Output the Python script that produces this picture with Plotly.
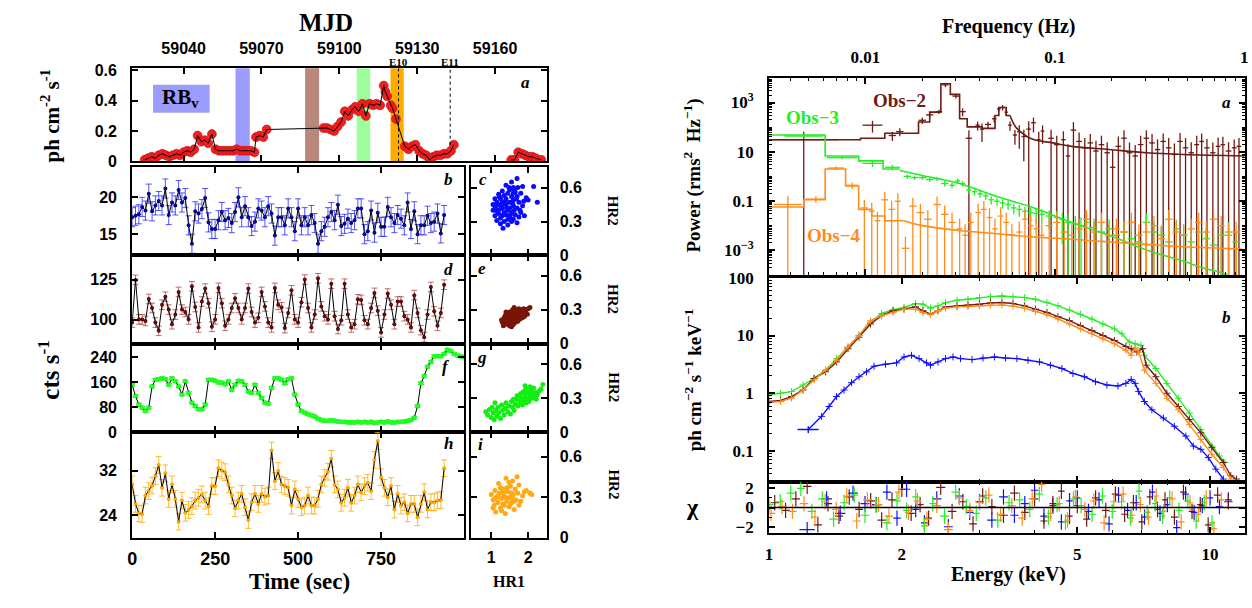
import numpy as np
import plotly.graph_objects as go

W, H = 1252, 608
def px(x): return x / W
def py(y): return 1 - y / H

SANS = "Liberation Sans"
SERIF = "Liberation Serif"

# ---------------- data: panel a (MJD light curve) ----------------
lc_mjd = [59025.0, 59026.3, 59027.7, 59029.1, 59030.4, 59031.8, 59033.2, 59034.5, 59035.9, 59037.3,
          59038.6, 59040.0, 59041.4, 59042.7, 59044.1, 59045.4, 59046.8, 59048.2, 59049.5, 59050.9,
          59052.3, 59053.6, 59055.0, 59056.4, 59057.7, 59059.1, 59060.4, 59061.8, 59063.2, 59064.5,
          59065.9, 59067.3, 59067.9, 59069.3, 59070.7, 59072.0, 59093.9, 59095.2, 59096.6, 59098.0,
          59099.3, 59100.7, 59102.1, 59103.4, 59104.8, 59106.1, 59107.5, 59108.9, 59110.2, 59111.6,
          59113.0, 59114.3, 59115.7, 59117.1, 59117.7, 59118.4, 59119.8, 59120.5, 59121.8, 59125.2,
          59126.6, 59128.0, 59129.3, 59130.7, 59132.1, 59133.4, 59134.8, 59136.2, 59137.5, 59138.9,
          59140.3, 59141.6, 59143.0, 59144.1, None,
          59166.2, 59167.5, 59168.9, 59170.3, 59171.6, 59173.0, 59174.4, 59175.7, 59177.8]
lc_flux = [0.01, 0.02, 0.03, 0.02, 0.04, 0.05, 0.04, 0.03, 0.04, 0.05,
           0.04, 0.06, 0.07, 0.06, 0.08, 0.17, 0.13, 0.14, 0.12, 0.18,
           0.08, 0.07, 0.07, 0.07, 0.07, 0.07, 0.08, 0.07, 0.07, 0.07,
           0.07, 0.06, 0.16, 0.17, 0.16, 0.21, 0.22, 0.22, 0.21, 0.20,
           0.23, 0.26, 0.33, 0.30, 0.34, 0.36, 0.33, 0.38, 0.30, 0.38,
           0.37, 0.38, 0.37, 0.50, 0.46, 0.43, 0.37, 0.35, 0.28, 0.10,
           0.08, 0.10, 0.11, 0.07, 0.05, 0.04, 0.01, 0.03, 0.04, 0.04,
           0.05, 0.05, 0.07, 0.11, None,
           0.01, 0.01, 0.06, 0.05, 0.04, 0.03, 0.03, 0.02, 0.01]
mjd_ticks = [59040, 59070, 59100, 59130, 59160]
mjd_ticklabels = ['59040', '59070', '59100', '59130', '59160']
band_start = [59060.0, 59086.8, 59106.7, 59119.7]
band_end = [59065.5, 59092.2, 59111.9, 59124.8]
band_color = ['#9c9cff', '#b9887a', '#9cff9c', '#ffab00']
epoch_mjd = [59122.8, 59142.7]
epoch_name = ['E10', 'E11']
epoch_flux = [0.0, 0.11]

# ---------------- data: light curves (cts/s) ----------------
t_short = list(range(0, 950, 10))
t_long = list(range(0, 1010, 10))
b_rate = [17.3, 17.5, 17.7, 18.7, 18.2, 20.5, 18.1, 18.9, 19.5, 18.9,
          21.2, 17.6, 19.3, 18.9, 21.0, 19.3, 19.9, 16.2, 13.7, 18.1,
          17.8, 18.4, 19.9, 16.6, 15.7, 15.7, 16.9, 18.0, 16.9, 17.2,
          16.5, 18.0, 20.0, 17.3, 18.8, 17.3, 16.1, 16.7, 18.5, 18.2,
          17.3, 18.8, 17.8, 14.8, 17.3, 17.3, 16.2, 18.5, 17.3, 15.4,
          18.5, 16.2, 17.3, 16.2, 17.6, 16.5, 13.7, 15.4, 16.0, 17.3,
          18.0, 16.9, 19.0, 16.1, 16.4, 17.1, 16.5, 16.9, 18.5, 18.5,
          15.0, 15.4, 18.2, 15.2, 17.9, 16.0, 16.0, 18.7, 17.3, 16.5,
          17.6, 17.1, 16.2, 19.3, 15.7, 18.1, 15.0, 16.2, 16.2, 17.5,
          16.5, 16.7, 17.8, 15.1, 17.6]
d_rate = [98.2, 124.8, 100.2, 100.2, 99.2, 112.9, 107.3, 98.2, 93.1, 109.3,
          114.3, 106.3, 97.2, 103.2, 117.3, 106.3, 104.8, 100.2, 120.8, 107.9,
          95.2, 111.3, 119.4, 110.3, 95.6, 100.2, 119.8, 110.3, 96.2, 100.2,
          107.3, 113.3, 107.3, 100.2, 107.3, 119.4, 104.8, 98.2, 101.2, 117.3,
          108.3, 98.2, 95.2, 119.8, 109.3, 107.7, 94.8, 104.2, 118.3, 100.2,
          98.2, 110.9, 125.0, 107.3, 95.2, 103.2, 125.8, 108.3, 102.2, 100.2,
          122.4, 102.2, 94.2, 99.6, 122.4, 103.2, 95.2, 97.2, 112.7, 112.3,
          99.6, 97.2, 107.3, 116.7, 105.6, 92.1, 103.2, 116.3, 109.3, 97.2,
          111.3, 111.3, 102.2, 100.2, 95.2, 115.3, 104.2, 93.5, 89.1, 103.2,
          120.4, 105.2, 96.2, 104.2, 121.8]
f_rate = [151, 115, 88, 78, 67, 78, 146, 167, 169, 172,
          169, 151, 172, 162, 146, 120, 162, 125, 94, 83,
          73, 73, 88, 167, 167, 164, 158, 158, 153, 162,
          135, 151, 164, 162, 151, 130, 125, 151, 125, 109,
          94, 91, 141, 172, 172, 167, 156, 169, 172, 120,
          88, 67, 62, 57, 54, 50, 43, 39, 36, 36,
          38, 36, 34, 33, 33, 31, 31, 31, 33, 31,
          33, 31, 33, 29, 31, 33, 31, 34, 31, 31,
          33, 33, 34, 36, 39, 46, 83, 156, 179, 209,
          224, 242, 242, 242, 250, 263, 259, 250, 245, 242,
          240]
h_rate = [29.5, 26.0, 24.3, 24.2, 27.5, 28.3, 29.3, 31.0, 33.0, 28.9,
          31.5, 26.9, 29.5, 26.9, 22.8, 26.6, 24.4, 24.9, 25.6, 26.6,
          27.1, 27.7, 26.6, 25.6, 29.2, 29.2, 32.4, 32.0, 31.7, 29.5,
          27.5, 25.2, 26.6, 27.8, 25.4, 23.1, 26.3, 27.8, 26.0, 27.8,
          27.3, 27.5, 35.6, 30.1, 31.9, 29.5, 29.2, 28.9, 25.7, 28.6,
          26.9, 25.4, 25.7, 27.5, 25.7, 25.7, 26.9, 29.5, 30.7, 31.8,
          34.1, 29.5, 28.6, 26.2, 27.1, 28.9, 26.2, 27.5, 29.5, 28.1,
          29.2, 29.8, 28.3, 33.9, 37.3, 30.8, 28.9, 27.2, 29.2, 25.0,
          27.8, 25.7, 26.3, 24.3, 26.0, 26.0, 23.6, 26.0, 28.1, 25.0,
          26.3, 26.3, 26.6, 26.7, 32.4]
rate_err = [1.3, 3.0, 4.0, 1.5]

# ---------------- data: hardness-ratio diagrams ----------------
c_hr1 = [1.70, 1.55, 1.40, 1.85, 2.15, 1.60, 1.50, 1.30, 1.65, 1.45, 1.80, 1.20, 1.35, 1.55, 1.70,
         1.95, 1.10, 1.25, 1.40, 1.60, 2.00, 2.25, 1.15, 1.30, 1.50, 1.75, 1.05, 1.20, 1.40, 1.60,
         1.85, 1.10, 1.30, 1.50, 1.70, 1.25, 1.45, 1.62, 1.05, 1.15, 1.35, 1.55, 1.80, 1.20, 1.40,
         1.65, 1.10, 1.30, 1.50, 1.75, 1.90, 1.25, 1.45, 1.60, 1.15, 1.35, 1.55, 1.70, 1.25, 1.45,
         1.32, 1.60, 1.48, 1.38, 1.58, 1.68, 1.28, 1.52, 1.42, 1.22, 1.78, 1.88, 1.12, 1.62, 1.72]
c_hr2 = [0.68, 0.65, 0.62, 0.61, 0.61, 0.60, 0.58, 0.57, 0.56, 0.55, 0.55, 0.54, 0.53, 0.52, 0.52,
         0.51, 0.50, 0.50, 0.50, 0.49, 0.49, 0.47, 0.47, 0.47, 0.47, 0.47, 0.45, 0.45, 0.45, 0.44,
         0.44, 0.43, 0.42, 0.42, 0.42, 0.41, 0.40, 0.40, 0.40, 0.39, 0.38, 0.38, 0.38, 0.37, 0.36,
         0.36, 0.35, 0.35, 0.34, 0.34, 0.35, 0.33, 0.32, 0.32, 0.31, 0.30, 0.30, 0.29, 0.28, 0.27,
         0.24, 0.55, 0.60, 0.48, 0.46, 0.50, 0.44, 0.36, 0.42, 0.52, 0.40, 0.48, 0.42, 0.58, 0.60]
e_hr1 = [1.30, 1.35, 1.40, 1.45, 1.50, 1.55, 1.60, 1.42, 1.48, 1.52, 1.58, 1.62, 1.65, 1.70, 1.75,
         1.80, 1.85, 1.90, 1.95, 2.00, 2.05, 1.38, 1.44, 1.50, 1.56, 1.63, 1.68, 1.72, 1.78, 1.83,
         1.88, 1.93, 1.98, 1.35, 1.28, 1.33, 1.55, 1.60, 1.66, 1.72, 1.78, 1.84, 1.46, 1.54, 1.69,
         1.58, 1.62, 1.75, 1.90, 1.40]
e_hr2 = [0.19, 0.18, 0.20, 0.17, 0.16, 0.18, 0.20, 0.22, 0.24, 0.21, 0.23, 0.25, 0.22, 0.24, 0.26,
         0.25, 0.27, 0.29, 0.30, 0.31, 0.32, 0.25, 0.27, 0.28, 0.27, 0.28, 0.27, 0.29, 0.28, 0.30,
         0.31, 0.27, 0.26, 0.23, 0.21, 0.16, 0.15, 0.17, 0.19, 0.20, 0.22, 0.23, 0.19, 0.25, 0.30,
         0.30, 0.32, 0.31, 0.24, 0.28]
g_hr1 = [0.85, 0.90, 0.95, 1.00, 1.02, 1.05, 1.08, 1.10, 1.12, 1.15, 1.18, 1.20, 1.25, 1.28, 1.30,
         1.35, 1.38, 1.40, 1.45, 1.48, 1.52, 1.55, 1.58, 1.62, 1.65, 1.68, 1.72, 1.75, 1.78, 1.80,
         1.82, 1.85, 1.88, 1.90, 1.92, 1.95, 1.98, 2.00, 2.02, 2.05, 2.08, 2.10, 2.12, 2.15, 2.18,
         2.20, 2.25, 2.30, 2.35, 2.40, 1.92, 1.70, 2.05, 1.85, 2.22, 1.60, 1.95]
g_hr2 = [0.18, 0.15, 0.20, 0.13, 0.22, 0.17, 0.11, 0.26, 0.19, 0.14, 0.22, 0.17, 0.12, 0.24, 0.19,
         0.15, 0.21, 0.26, 0.18, 0.23, 0.16, 0.27, 0.22, 0.19, 0.25, 0.29, 0.23, 0.31, 0.27, 0.34,
         0.25, 0.30, 0.36, 0.28, 0.33, 0.38, 0.30, 0.35, 0.27, 0.32, 0.37, 0.30, 0.34, 0.39, 0.31,
         0.35, 0.33, 0.36, 0.38, 0.42, 0.41, 0.32, 0.40, 0.24, 0.29, 0.29, 0.26]
i_hr1 = [1.00, 1.05, 1.08, 1.10, 1.12, 1.15, 1.18, 1.20, 1.22, 1.25, 1.28, 1.30, 1.32, 1.35, 1.38,
         1.40, 1.42, 1.45, 1.48, 1.50, 1.52, 1.55, 1.58, 1.60, 1.62, 1.65, 1.68, 1.70, 1.72, 1.75,
         1.80, 1.85, 1.90, 1.95, 2.05, 2.10, 1.25, 1.35, 1.45, 1.55, 1.18, 1.28, 1.62, 1.42, 1.33,
         1.10, 1.52, 1.48, 1.38, 1.58, 1.05, 1.75]
i_hr2 = [0.32, 0.28, 0.24, 0.35, 0.19, 0.30, 0.26, 0.40, 0.33, 0.22, 0.29, 0.36, 0.25, 0.31, 0.18,
         0.44, 0.27, 0.34, 0.23, 0.30, 0.38, 0.26, 0.42, 0.32, 0.21, 0.36, 0.28, 0.45, 0.33, 0.39,
         0.27, 0.31, 0.34, 0.35, 0.33, 0.32, 0.37, 0.24, 0.29, 0.33, 0.31, 0.20, 0.27, 0.37, 0.34,
         0.29, 0.25, 0.41, 0.30, 0.29, 0.22, 0.24]

# ---------------- data: power spectra (log10 f [Hz], log10 P, relative error) ----------------
obs2_logf = [-2.326, -1.963, -1.858, -1.819, -1.700, -1.661, -1.612, -1.578, -1.523, -1.487,
             -1.454, -1.408, -1.385, -1.353, -1.320, -1.296, -1.276, -1.257, -1.237, -1.211,
             -1.188, -1.164, -1.138, -1.113, -1.085, -1.065, -1.020, -0.990, -0.955, -0.931,
             -0.902, -0.872, -0.842, -0.813, -0.783, -0.754, -0.724, -0.695, -0.665, -0.635,
             -0.606, -0.576, -0.547, -0.517, -0.487, -0.458, -0.428, -0.399, -0.369, -0.339,
             -0.310, -0.280, -0.251, -0.225, -0.197, -0.166, -0.138, -0.113, -0.083, -0.053, -0.028]
obs2_logp = [1.49, 2.08, 1.66, 1.82, 2.28, 2.50, 2.63, 3.72, 3.26, 2.63,
             1.55, 2.08, 1.92, 2.11, 2.34, 2.74, 2.80, 2.61, 2.08, 1.68,
             1.82, 1.62, 1.92, 2.18, 1.49, 1.84, 1.55, 1.29, 1.49, 0.83,
             1.88, 1.42, 1.16, 1.36, 1.03, 1.29, 0.96, 0.37, 1.22, 1.55,
             0.96, 0.83, 1.29, 1.55, 1.36, 1.09, 1.42, 1.16, 0.89, 1.42,
             1.16, 0.96, 1.29, 1.42, 1.16, 0.96, 1.22, 1.29, 1.03, 1.16, 1.22]
obs2_rel = [1.1, 0.5, 0.4, 0.35, 0.3, 0.25, 0.2, 0.2, 0.2, 0.35,
            1.1, 0.4, 0.7, 0.3, 0.3, 0.2, 0.25, 0.3, 0.4, 0.6,
            0.8, 0.9, 1.1, 0.6, 1.1, 0.7, 1.2, 1.3, 1.2, 2.0,
            1.1, 1.3, 1.5, 1.3, 1.6, 1.3, 1.7, 4.0, 1.5, 1.1,
            1.6, 1.8, 1.3, 1.1, 1.3, 1.6, 1.1, 1.5, 1.8, 1.2,
            1.5, 1.7, 1.3, 1.1, 1.3, 1.6, 1.3, 1.1, 1.3, 1.2, 1.2]
m2_step_logf = [-2.509, -2.026, -1.898, -1.720, -1.661, -1.602, -1.552, -1.503, -1.463, -1.385,
                -1.316, -1.296, -1.257, -1.237]
m2_step_logp = [1.49, 1.55, 1.75, 2.21, 2.61, 3.76, 3.33, 2.34, 2.01, 1.95, 2.47, 2.80, 2.47, 2.47]
m2_smooth_logf = [-1.237, -1.207, -1.148, -1.109, -1.010, -0.911, -0.714, -0.517, -0.320, 0.0]
m2_smooth_logp = [2.47, 2.01, 1.62, 1.49, 1.36, 1.22, 1.09, 0.96, 0.89, 0.83]

obs3_logf = [-2.326, -2.124, -1.963, -1.858, -1.779, -1.740, -1.700, -1.661, -1.622, -1.582,
             -1.543, -1.513, -1.487, -1.454, -1.424, -1.395, -1.365, -1.336, -1.306, -1.276,
             -1.247, -1.217, -1.188, -1.158, -1.128, -1.099, -1.069, -1.030, -0.990, -0.961,
             -0.931, -0.892, -0.862, -0.833, -0.793, -0.754, -0.714, -0.675, -0.635, -0.596,
             -0.556, -0.517, -0.477, -0.438, -0.399, -0.359, -0.320, -0.280, -0.241, -0.201,
             -0.162, -0.122, -0.083, -0.043]
obs3_logp = [1.64, 0.76, 0.53, 0.37, 0.0, -0.05, -0.05, -0.13, -0.09, -0.29,
             -0.36, -0.18, -0.29, -0.55, -0.62, -0.71, -0.79, -0.95, -1.01, -1.08,
             -1.14, -1.28, -1.34, -1.41, -1.47, -1.50, -1.54, -1.61, -1.67, -1.74,
             -1.87, -1.93, -2.00, -1.87, -2.07, -2.26, -2.13, -2.39, -2.26, -2.53,
             -2.66, -1.87, -2.26, -2.39, -2.66, -2.13, -2.39, -2.66, -2.26, -2.53,
             -2.79, -2.39, -2.26, -2.66]
obs3_rel = [0.15, 0.15, 0.3, 0.25, 0.2, 0.2, 0.2, 0.2, 0.2, 0.25,
            0.25, 0.25, 0.25, 0.3, 0.3, 0.3, 0.3, 0.35, 0.35, 0.4,
            0.4, 0.45, 0.5, 0.5, 0.55, 0.6, 0.6, 0.7, 0.8, 0.9,
            1.1, 1.1, 1.2, 1.3, 1.3, 1.4, 1.4, 1.5, 1.5, 1.6,
            1.6, 1.3, 1.5, 1.5, 1.6, 1.4, 1.5, 1.6, 1.5, 1.6,
            1.7, 1.5, 1.5, 1.6]
m3_step_logf = [-2.509, -2.213, -2.036, -1.907, -1.819]
m3_step_logp = [1.68, 0.83, 0.63, 0.30, 0.30]
m3_smooth_logf = [-1.819, -1.700, -1.503, -1.306, -1.109, -0.911, -0.714, -0.517, -0.320, -0.221,
                  -0.122, -0.063]
m3_smooth_logp = [0.24, 0.04, -0.29, -0.82, -1.28, -1.87, -2.39, -2.99, -3.45, -3.71, -3.91, -4.1]

obs4_logf = [-2.410, -2.262, -2.154, -2.071, -2.006, -1.967, -1.937, -1.898, -1.862, -1.829,
             -1.789, -1.750, -1.710, -1.671, -1.622, -1.582, -1.543, -1.503, -1.474, -1.444,
             -1.405, -1.375, -1.345, -1.316, -1.286, -1.257, -1.227, -1.188, -1.158, -1.128,
             -1.099, -1.069, -1.030, -0.990, -0.951, -0.911, -0.872, -0.833, -0.793, -0.754,
             -0.714, -0.675, -0.635, -0.596, -0.556, -0.517, -0.477, -0.438, -0.399, -0.359,
             -0.320, -0.280, -0.241, -0.201, -0.162, -0.122, -0.083, -0.043]
obs4_logp = [-1.14, -0.92, 0.34, -0.36, -1.28, -1.41, -1.80, -0.95, -1.34, -1.01,
             -2.92, -1.21, -1.47, -1.74, -1.14, -1.54, -1.87, -2.13, -2.39, -1.87,
             -1.47, -1.34, -1.67, -2.13, -1.61, -1.87, -2.39, -2.26, -1.74, -2.00,
             -2.13, -2.39, -2.00, -1.87, -2.26, -2.39, -2.13, -1.74, -2.26, -1.87,
             -2.39, -2.13, -2.26, -1.87, -2.39, -2.26, -2.00, -2.53, -1.74, -2.26,
             -2.39, -2.13, -1.87, -2.26, -1.74, -2.00, -2.39, -2.26]
obs4_rel = [1.2, 0.3, 0.15, 0.3, 1.1, 1.2, 1.3, 1.1, 1.2, 1.1,
            2.0, 1.2, 1.3, 1.4, 1.1, 1.3, 1.5, 1.6, 1.8, 1.5,
            1.3, 1.2, 1.4, 1.6, 1.3, 1.5, 1.8, 1.7, 1.4, 1.5,
            1.6, 1.8, 1.5, 1.5, 1.7, 1.8, 1.6, 1.4, 1.7, 1.5,
            1.8, 1.6, 1.7, 1.5, 1.8, 1.7, 1.5, 1.9, 1.4, 1.7,
            1.8, 1.6, 1.5, 1.7, 1.4, 1.5, 1.8, 1.7]
m4_step_logf = [-2.509, -2.326, -2.213, -2.105, -2.036, -1.967, -1.898, -1.799]
m4_step_logp = [-1.24, -0.95, 0.30, -0.39, -1.34, -1.61, -1.80, -1.80]
m4_smooth_logf = [-1.799, -1.700, -1.503, -1.306, -1.109, -0.911, -0.714, -0.517, -0.320, -0.014]
m4_smooth_logp = [-1.80, -2.00, -2.20, -2.33, -2.46, -2.55, -2.66, -2.76, -2.86, -2.95]

# ---------------- data: energy spectra (log10 E [keV], log10 flux) ----------------
sp_green_logE = [0.000, 0.026, 0.051, 0.077, 0.102, 0.128, 0.153, 0.179, 0.204, 0.230,
                 0.255, 0.281, 0.306, 0.332, 0.349, 0.366, 0.383, 0.400, 0.426, 0.451,
                 0.477, 0.502, 0.528, 0.553, 0.579, 0.604, 0.630, 0.655, 0.681, 0.706,
                 0.732, 0.757, 0.783, 0.800, 0.817, 0.830, 0.843, 0.851, 0.877, 0.902,
                 0.928, 0.953, 0.979, 1.004, 1.021, 1.034]
sp_green_logS = [-0.029, 0.000, 0.029, 0.143, 0.257, 0.400, 0.600, 0.800, 1.000, 1.229,
                 1.383, 1.446, 1.486, 1.554, 1.543, 1.474, 1.514, 1.571, 1.611, 1.629,
                 1.657, 1.674, 1.686, 1.674, 1.657, 1.629, 1.571, 1.514, 1.440, 1.371,
                 1.286, 1.200, 1.114, 1.029, 0.886, 0.857, 0.829, 0.657, 0.429, 0.171,
                 -0.086, -0.343, -0.629, -0.914, -1.086, -1.200]
sp_brown_logE = [0.000, 0.026, 0.051, 0.077, 0.102, 0.128, 0.153, 0.179, 0.204, 0.230,
                 0.255, 0.281, 0.306, 0.332, 0.349, 0.366, 0.383, 0.400, 0.426, 0.451,
                 0.477, 0.502, 0.528, 0.553, 0.579, 0.604, 0.630, 0.655, 0.681, 0.706,
                 0.732, 0.757, 0.783, 0.809, 0.821, 0.834, 0.847, 0.855, 0.877, 0.902,
                 0.928, 0.953, 0.979, 1.004, 1.030, 1.047, 1.060]
sp_brown_logS = [-0.143, -0.126, -0.057, 0.057, 0.257, 0.371, 0.543, 0.771, 0.971, 1.200,
                 1.343, 1.429, 1.457, 1.497, 1.429, 1.371, 1.429, 1.497, 1.514, 1.526,
                 1.543, 1.566, 1.571, 1.554, 1.514, 1.457, 1.400, 1.326, 1.257, 1.171,
                 1.086, 1.000, 0.914, 0.811, 0.771, 0.714, 0.771, 0.486, 0.286, 0.000,
                 -0.229, -0.457, -0.686, -0.943, -1.200, -1.429, -1.486]
sp_orange_logE = [0.000, 0.026, 0.051, 0.077, 0.102, 0.128, 0.153, 0.179, 0.204, 0.230,
                  0.255, 0.281, 0.306, 0.332, 0.349, 0.366, 0.383, 0.400, 0.426, 0.451,
                  0.477, 0.502, 0.528, 0.553, 0.579, 0.604, 0.630, 0.655, 0.681, 0.706,
                  0.732, 0.757, 0.783, 0.809, 0.821, 0.830, 0.838, 0.851, 0.877, 0.902,
                  0.928, 0.953, 0.979, 1.004, 1.030, 1.047]
sp_orange_logS = [-0.160, -0.143, -0.086, 0.057, 0.229, 0.400, 0.571, 0.800, 1.000, 1.257,
                  1.343, 1.400, 1.457, 1.457, 1.400, 1.360, 1.429, 1.474, 1.497, 1.503,
                  1.514, 1.531, 1.531, 1.509, 1.474, 1.417, 1.360, 1.286, 1.200, 1.114,
                  1.029, 0.943, 0.857, 0.743, 0.657, 0.789, 0.714, 0.400, 0.171, -0.086,
                  -0.286, -0.543, -0.800, -1.057, -1.286, -1.486]
sp_blue_logE = [0.089, 0.119, 0.136, 0.153, 0.170, 0.187, 0.204, 0.221, 0.238, 0.264,
                0.289, 0.306, 0.323, 0.340, 0.357, 0.366, 0.383, 0.400, 0.417, 0.434,
                0.460, 0.485, 0.511, 0.536, 0.562, 0.587, 0.613, 0.638, 0.664, 0.689,
                0.715, 0.740, 0.766, 0.791, 0.809, 0.821, 0.830, 0.838, 0.851, 0.868,
                0.894, 0.919, 0.945, 0.962, 0.979, 0.996, 1.013, 1.030]
sp_blue_logS = [-0.629, -0.400, -0.229, -0.057, 0.057, 0.183, 0.286, 0.371, 0.469, 0.503,
                0.526, 0.629, 0.657, 0.600, 0.526, 0.486, 0.543, 0.600, 0.629, 0.600,
                0.583, 0.611, 0.629, 0.611, 0.600, 0.571, 0.543, 0.486, 0.429, 0.343,
                0.286, 0.200, 0.143, 0.126, 0.171, 0.240, 0.171, 0.029, -0.143, -0.286,
                -0.429, -0.571, -0.743, -0.914, -0.971, -1.114, -1.314, -1.486]

# ---------------- data: residuals (chi) ----------------
blue_res_E = [1.22, 1.35, 1.45, 1.55, 1.65, 1.75, 1.85, 1.95, 2.05, 2.15, 2.25, 2.4, 2.55, 2.7, 2.85,
              3.0, 3.2, 3.4, 3.6, 3.8, 4.0, 4.2, 4.4, 4.6, 4.8, 5.0, 5.3, 5.6, 5.9, 6.2, 6.5, 6.8,
              7.1, 7.4, 7.7, 8.0, 8.4, 8.8, 9.2, 9.6, 10.0, 10.5, 11.0]
blue_res = [-2.3, 0.9, -0.6, 1.5, 0.4, 0.3, 1.6, -1.1, 1.9, -0.2, -1.6, 0.9, -2.0, 1.2, -0.5,
            0.6, -1.3, 1.1, -0.8, 0.4, 1.8, -0.9, 0.2, -1.5, 0.7, 1.0, -0.4, 0.8, -1.7, 1.3, -0.3,
            0.5, -1.0, 1.6, -0.6, 0.3, -2.1, 1.4, -0.5, 0.2, 1.0, 0.1, 0.8]
green_res_E = [1.0, 1.06, 1.12, 1.18, 1.25, 1.32, 1.4, 1.48, 1.56, 1.65, 1.75, 1.85, 1.95, 2.05,
               2.15, 2.25, 2.35, 2.5, 2.65, 2.8, 2.95, 3.1, 3.3, 3.5, 3.7, 3.9, 4.1, 4.3, 4.5, 4.7,
               4.9, 5.1, 5.4, 5.7, 6.0, 6.3, 6.6, 6.9, 7.2, 7.5, 7.8, 8.1, 8.5, 8.9, 9.3, 9.7, 10.1]
green_res = [0.3, 0.6, 1.5, 2.0, -0.4, 0.9, -1.2, 0.5, 1.3, -0.8, 0.2, -1.6, 0.7, -0.3, 1.1,
             -1.9, 0.4, -0.9, 1.6, 0.1, -0.6, 1.0, -1.3, 0.5, 0.8, -0.2, 1.4, -1.0, 0.3, -1.5,
             0.9, 0.2, -0.7, 1.2, -0.4, 0.6, -1.1, 1.7, -0.5, 0.4, -0.9, 1.0, -0.3, 0.7, -1.4,
             0.5, -1.6]
brown_res_E = [1.03, 1.09, 1.15, 1.22, 1.29, 1.36, 1.44, 1.52, 1.6, 1.7, 1.8, 1.9, 2.0, 2.1, 2.2,
               2.3, 2.45, 2.6, 2.75, 2.9, 3.05, 3.2, 3.4, 3.6, 3.8, 4.0, 4.2, 4.4, 4.6, 4.8, 5.0,
               5.25, 5.5, 5.8, 6.1, 6.4, 6.7, 7.0, 7.3, 7.6, 7.9, 8.3, 8.7, 9.1, 9.5, 9.9, 10.4, 11.0]
brown_res = [0.5, -0.3, 0.9, 2.2, -1.8, 0.4, -0.9, 1.1, -0.2, 0.7, -1.3, 0.8, 1.9, -0.6, 0.3,
             -1.1, 2.1, -0.4, 0.6, -1.7, 1.2, 0.1, -0.8, 1.5, -0.5, 0.9, -1.4, 0.4, 1.7, -0.9,
             0.2, -1.2, 1.0, -0.3, 1.4, -0.7, 0.5, -1.5, 1.1, -0.2, 0.8, -1.0, 1.6, -0.4, 0.3,
             -1.8, 1.3, 0.6]
orange_res_E = [1.01, 1.07, 1.13, 1.2, 1.27, 1.34, 1.42, 1.5, 1.58, 1.67, 1.77, 1.87, 1.97, 2.07,
                2.17, 2.28, 2.4, 2.55, 2.7, 2.85, 3.0, 3.15, 3.35, 3.55, 3.75, 3.95, 4.15, 4.35,
                4.55, 4.75, 4.95, 5.2, 5.45, 5.75, 6.05, 6.35, 6.65, 6.95, 7.25, 7.55, 7.85, 8.2,
                8.6, 9.0, 9.4, 9.8, 10.2, 10.6]
orange_res = [-0.6, 0.1, -0.4, 0.4, -1.0, 0.6, -0.2, 1.2, -1.4, 0.8, 0.3, -0.9, 1.6, -0.5, 0.7,
              -1.2, 0.2, -2.3, 1.0, -0.3, 0.5, 1.3, -0.7, 0.2, -1.1, 0.9, 2.4, -0.6, 0.4, -1.3,
              1.1, -0.2, 0.7, -1.6, 0.6, 1.4, -0.8, 0.3, -1.0, 1.2, -0.4, 0.9, -1.5, 0.5, -0.7,
              1.0, -2.2, 0.8]

# ---------------- colours ----------------
C_BLUE = '#1010ff'
C_BROWN = '#6e1a14'
C_GREEN = '#22ee22'
C_ORANGE = '#ff8c1a'

fig = go.Figure()

LF = dict(family=SANS, size=16, color='black', weight='bold')

def ax(**kw):
    base = dict(showline=True, linecolor='black', linewidth=2, mirror='allticks',
                ticks='inside', ticklen=6, tickwidth=1.5, tickcolor='black',
                showgrid=False, zeroline=False, tickfont=LF)
    base.update(kw)
    return base

RF = dict(family=SERIF, size=17, color='black', weight='bold')
minor_log = dict(ticks='inside', ticklen=3, tickwidth=1, tickcolor='black', dtick='D1', showgrid=False)

L = {}
L['xaxis'] = ax(domain=[px(128), px(545)], anchor='y', side='top', range=[59020.2, 59179.8],
                tickmode='array', tickvals=mjd_ticks, ticktext=mjd_ticklabels, ticklabelstandoff=6)
L['yaxis'] = ax(domain=[py(157), py(61)], anchor='x', range=[0, 0.615],
                tickvals=[0, 0.2, 0.4, 0.6], ticktext=['0', '0.2', '0.4', '0.6'], ticklabelstandoff=10)

rows = [(163, 254), (254, 345), (345, 436), (436, 545)]
yranges = [[12.1, 24.1], [85, 140], [0, 282], [19.9, 38.9]]
yticks = [[15, 20], [100, 125], [0, 80, 160, 240], [24, 32]]
for k in range(4):
    i = k + 2
    top, bot = rows[k]
    L[f'xaxis{i}'] = ax(domain=[px(128), px(462)], anchor=f'y{i}', range=[0, 1000],
                        tickvals=[0, 250, 500, 750], ticktext=['0', '250', '500', '750'],
                        showticklabels=(k == 3), ticklabelstandoff=4,
                        tickfont=dict(family=SANS, size=18, color='black', weight='bold'))
    L[f'yaxis{i}'] = ax(domain=[py(bot), py(top)], anchor=f'x{i}', range=yranges[k],
                        tickvals=yticks[k], ticktext=[str(v) for v in yticks[k]], ticklabelstandoff=10)
    j = k + 6
    L[f'xaxis{j}'] = ax(domain=[px(469), px(545)], anchor=f'y{j}', range=[0.45, 2.5],
                        tickvals=[1, 2], ticktext=['1', '2'], showticklabels=(k == 3), ticklabelstandoff=4)
    L[f'yaxis{j}'] = ax(domain=[py(bot), py(top)], anchor=f'x{j}', side='right', range=[0, 0.78],
                        tickvals=[0, 0.3, 0.6], ticktext=['0', '0.3', '0.6'], ticklabelstandoff=8)

L['xaxis10'] = ax(domain=[px(769), px(1248)], anchor='y10', type='log', side='top', range=[-2.509, 0.004],
                  tickvals=[0.01, 0.1, 1], ticktext=['0.01', '0.1', '1'], minor=minor_log,
                  tickfont=RF, ticklabelstandoff=6)
L['yaxis10'] = ax(domain=[py(274), py(71)], anchor='x10', type='log', range=[-4, 4],
                  tickvals=[1e-3, 0.1, 10, 1e3],
                  ticktext=['10<sup>−3</sup>', '0.1', '10', '10<sup>3</sup>'],
                  minor=minor_log, tickfont=RF, ticklabelstandoff=10)
L['xaxis11'] = ax(domain=[px(769), px(1248)], anchor='y11', type='log', range=[0, 1.0792],
                  tickvals=[1, 2, 5, 10], ticktext=['1', '2', '5', '10'], showticklabels=False, minor=minor_log)
L['yaxis11'] = ax(domain=[py(487), py(277)], anchor='x11', type='log', range=[-1.53, 2],
                  tickvals=[0.1, 1, 10, 100], ticktext=['0.1', '1', '10', '100'],
                  minor=minor_log, tickfont=RF, ticklabelstandoff=10)
L['xaxis12'] = ax(domain=[px(769), px(1248)], anchor='y12', type='log', range=[0, 1.0792],
                  tickvals=[1, 2, 5, 10], ticktext=['1', '2', '5', '10'], minor=minor_log,
                  tickfont=RF, ticklabelstandoff=5)
L['yaxis12'] = ax(domain=[py(540), py(487)], anchor='x12', range=[-2.65, 2.7],
                  tickvals=[-2, 0, 2], ticktext=['−2', '0', '2'], tickfont=RF, ticklabelstandoff=10,
                  minor=dict(ticks='inside', ticklen=3, tickwidth=1, tickcolor='black', dtick=1))

# ---------------- traces: panel a ----------------
fig.add_trace(go.Scatter(x=lc_mjd, y=lc_flux, mode='markers', xaxis='x', yaxis='y',
                         marker=dict(color='#f01e1e', size=9, line=dict(color='#c81010', width=0.6))))
fig.add_trace(go.Scatter(x=lc_mjd, y=lc_flux, mode='lines', xaxis='x', yaxis='y',
                         line=dict(color='black', width=1)))

# ---------------- traces: light curves ----------------
series = [(t_short, b_rate, '#0a0a90', 'rgba(40,40,255,0.8)', 4),
          (t_short, d_rate, '#6a0a0a', 'rgba(150,40,40,0.65)', 4),
          (t_long, f_rate, '#22ff22', 'rgba(0,230,0,0.9)', 5),
          (t_short, h_rate, '#ffa500', 'rgba(255,170,0,0.8)', 4)]
for k, (tt, rr, mc, ec, ms) in enumerate(series):
    i = k + 2
    fig.add_trace(go.Scatter(x=tt, y=rr, mode='markers', xaxis=f'x{i}', yaxis=f'y{i}',
                             marker=dict(color=mc, size=ms),
                             error_y=dict(type='constant', value=rate_err[k], color=ec,
                                          thickness=1, width=3)))
    fig.add_trace(go.Scatter(x=tt, y=rr, mode='lines+markers', xaxis=f'x{i}', yaxis=f'y{i}',
                             line=dict(color='black', width=1), marker=dict(color=mc, size=ms - 1)))

# ---------------- traces: HR diagrams ----------------
hr_sets = [(c_hr1, c_hr2, '#0a0aff'), (e_hr1, e_hr2, '#7a1408'),
           (g_hr1, g_hr2, '#11ee11'), (i_hr1, i_hr2, '#ffa812')]
for k, (h1, h2, col) in enumerate(hr_sets):
    j = k + 6
    fig.add_trace(go.Scatter(x=h1, y=h2, mode='markers', xaxis=f'x{j}', yaxis=f'y{j}',
                             marker=dict(color=col, size=5)))

# ---------------- traces: power spectra ----------------
def half_widths(logf):
    lf = np.array(logf)
    d = np.diff(lf)
    left = np.concatenate([[d[0]], d])
    right = np.concatenate([d, [d[-1]]])
    return 0.5 * np.minimum(left, right)

def add_pds(logf, logp, rel, step_f, step_p, sm_f, sm_p, col):
    f = 10 ** np.array(logf)
    p = 10 ** np.array(logp)
    err = p * np.array(rel)
    lo = np.where(p - err > 1e-6, err, p - 1e-6)
    hw = half_widths(logf)
    fig.add_trace(go.Scatter(x=10 ** np.array(step_f), y=10 ** np.array(step_p), mode='lines',
                             line=dict(color=col, width=1.6, shape='hv'), xaxis='x10', yaxis='y10'))
    fig.add_trace(go.Scatter(x=10 ** np.array(sm_f), y=10 ** np.array(sm_p), mode='lines',
                             line=dict(color=col, width=1.6, shape='spline'), xaxis='x10', yaxis='y10'))
    fig.add_trace(go.Scatter(x=f, y=p, mode='markers', marker=dict(color=col, size=1),
                             xaxis='x10', yaxis='y10',
                             error_x=dict(type='data', symmetric=False, array=f * (10 ** hw - 1),
                                          arrayminus=f * (1 - 10 ** -hw), color=col, thickness=1.3, width=0),
                             error_y=dict(type='data', symmetric=False, array=err, arrayminus=lo,
                                          color=col, thickness=1.3, width=0)))

add_pds(obs2_logf, obs2_logp, obs2_rel, m2_step_logf, m2_step_logp, m2_smooth_logf, m2_smooth_logp, C_BROWN)
add_pds(obs3_logf, obs3_logp, obs3_rel, m3_step_logf, m3_step_logp, m3_smooth_logf, m3_smooth_logp, C_GREEN)
add_pds(obs4_logf, obs4_logp, obs4_rel, m4_step_logf, m4_step_logp, m4_smooth_logf, m4_smooth_logp, C_ORANGE)

# ---------------- traces: energy spectra ----------------
for lE, lS, col in [(sp_blue_logE, sp_blue_logS, C_BLUE), (sp_green_logE, sp_green_logS, C_GREEN),
                    (sp_brown_logE, sp_brown_logS, C_BROWN), (sp_orange_logE, sp_orange_logS, C_ORANGE)]:
    fig.add_trace(go.Scatter(x=10 ** np.array(lE), y=10 ** np.array(lS), mode='lines+markers',
                             line=dict(color=col, width=1.4),
                             marker=dict(symbol='cross-thin', size=5, line=dict(color=col, width=1)),
                             xaxis='x11', yaxis='y11'))
fig.add_trace(go.Scatter(x=[10 ** sp_blue_logE[0]], y=[10 ** sp_blue_logS[0]], mode='markers',
                         marker=dict(color=C_BLUE, size=1), xaxis='x11', yaxis='y11',
                         error_x=dict(type='percent', value=5.5, color=C_BLUE, thickness=1.4, width=0),
                         error_y=dict(type='percent', value=12, color=C_BLUE, thickness=1.4, width=0)))

# ---------------- traces: residuals ----------------
for EE, RR, col in [(blue_res_E, blue_res, C_BLUE), (brown_res_E, brown_res, C_BROWN),
                    (green_res_E, green_res, C_GREEN), (orange_res_E, orange_res, C_ORANGE)]:
    lE = np.log10(np.array(EE))
    hw = half_widths(lE) * 0.8
    E = np.array(EE)
    fig.add_trace(go.Scatter(x=E, y=RR, mode='markers', marker=dict(color=col, size=1),
                             xaxis='x12', yaxis='y12',
                             error_x=dict(type='data', symmetric=False, array=E * (10 ** hw - 1),
                                          arrayminus=E * (1 - 10 ** -hw), color=col, thickness=1.2, width=0),
                             error_y=dict(type='constant', value=0.8, color=col, thickness=1.2, width=0)))
fig.add_trace(go.Scatter(x=[1, 12], y=[0, 0], mode='lines', line=dict(color='black', width=1.5),
                         xaxis='x12', yaxis='y12'))

# ---------------- shapes ----------------
shapes = []
for x0, x1, col in zip(band_start, band_end, band_color):
    shapes.append(dict(type='rect', xref='x', yref='y domain', x0=x0, x1=x1, y0=0, y1=1,
                       fillcolor=col, line=dict(width=0), layer='below'))
ya0, ya1 = py(157), py(61)
for m, fl in zip(epoch_mjd, epoch_flux):
    y_start = ya0 + (fl / 0.615) * (ya1 - ya0)
    shapes.append(dict(type='line', xref='x', yref='paper', x0=m, x1=m, y0=y_start, y1=py(59),
                       line=dict(color='black', width=1, dash='dot')))
shapes.append(dict(type='rect', xref='paper', yref='paper', x0=px(149), x1=px(206), y0=py(107), y1=py(78),
                   fillcolor='#9c9cff', line=dict(width=0), layer='below'))

# ---------------- annotations ----------------
ann = []
def A(text, x, y, size, color='black', family=SERIF, angle=0, style='normal'):
    ann.append(dict(text=text, x=px(x), y=py(y), xref='paper', yref='paper', showarrow=False,
                    textangle=angle,
                    font=dict(family=family, size=size, color=color, weight='bold', style=style),
                    xanchor='center', yanchor='middle'))

A('MJD', 323, 14, 25)
A('ph cm<sup>-2</sup> s<sup>-1</sup>', 46, 110, 21, angle=-90)
A('cts s<sup>-1</sup>', 44, 372, 25, angle=-90)
A('Time (sec)', 296, 590, 23)
A('HR1', 507, 590, 16)
for yy in [208, 299, 390, 490]:
    A('HR2', 612, yy, 15, angle=90)
A('Frequency (Hz)', 1010, 18, 20)
A('Power (rms<sup>2</sup>  Hz<sup>−1</sup>)', 692, 172, 19, angle=-90)
A('ph cm<sup>−2</sup> s<sup>−1</sup> keV<sup>−1</sup>', 692, 382, 19, angle=-90)
A('χ', 692, 513, 24)
A('Energy (keV)', 1010, 583, 20)
A('RB<sub>v</sub>', 177, 92, 21)
for m, nm in zip(epoch_mjd, epoch_name):
    ann.append(dict(text=nm, x=m, y=py(55), xref='x', yref='paper', showarrow=False,
                    xanchor='center', yanchor='middle',
                    font=dict(family=SERIF, size=11, color='black', weight='bold')))
for lbl, x, y in [('a', 524, 76), ('b', 446, 176), ('d', 446, 268), ('f', 444, 368), ('h', 446, 448),
                  ('c', 481, 176), ('e', 480, 267), ('g', 480, 359), ('i', 479, 449),
                  ('a', 1229, 96), ('b', 1229, 318)]:
    A(lbl, x, y, 17, style='italic')
for txt, lx, ly, col in [('Obs−2', -1.821, 3.07, C_BROWN), ('Obs−3', -2.282, 2.41, C_GREEN),
                         ('Obs−4', -2.164, -2.39, C_ORANGE)]:
    ann.append(dict(text=txt, x=lx, y=ly, xref='x10', yref='y10', showarrow=False,
                    font=dict(family=SERIF, size=19, color=col, weight='bold')))

fig.update_layout(width=W, height=608, margin=dict(l=0, r=0, t=0, b=0),
                  paper_bgcolor='white', plot_bgcolor='white', showlegend=False,
                  shapes=shapes, annotations=ann, **L)

fig.write_html("out.html")
